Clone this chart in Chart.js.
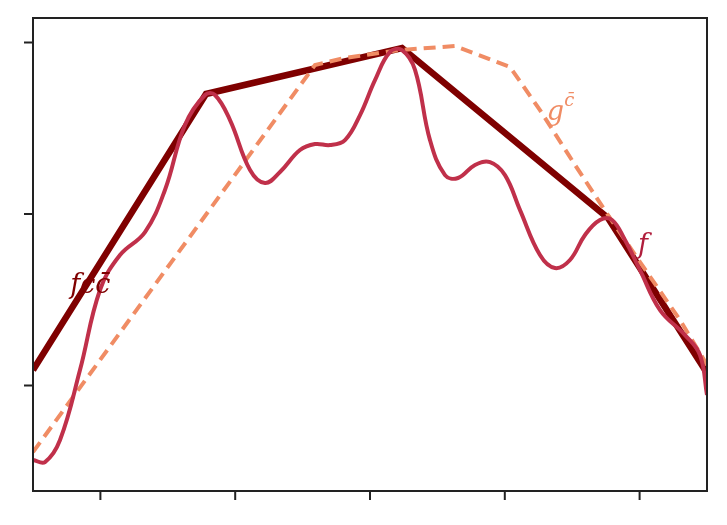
<!DOCTYPE html><html><head><script src="https://cdn.jsdelivr.net/npm/chart.js@4"></script>
<style>body{margin:0;background:#fff}#w{width:727px;height:525px}</style></head><body><div id="w"><canvas id="c"></canvas></div>
<script>
const fX=[0,0.178,0.401,0.697,0.994,1.291,1.662,1.958,2.255,2.552,2.700,2.923,3.220,3.442,3.665,3.961,4.184,4.407,4.629,4.852,5.074,5.297,5.475,5.668,5.890,6.113,6.306,6.558,6.780,7.003,7.226,7.522,7.745,7.967,8.190,8.412,8.591,8.783,9.006,9.303,9.674,9.896,10];
const fY=[-1.434,-1.446,-1.318,-0.910,-0.443,-0.239,-0.105,0.140,0.519,0.694,0.694,0.548,0.257,0.181,0.245,0.373,0.408,0.402,0.431,0.577,0.781,0.945,0.956,0.840,0.431,0.227,0.210,0.286,0.303,0.227,0.023,-0.239,-0.315,-0.268,-0.122,-0.035,-0.035,-0.152,-0.327,-0.560,-0.706,-0.822,-1.055];
const gX=[0,4.184,4.629,5.445,6.261,7.077,7.522,8.042,8.531,9.006,9.599,10];
const gY=[-1.388,0.869,0.910,0.956,0.980,0.857,0.606,0.286,-0.006,-0.280,-0.618,-0.880];
const hX=[0,2.567,5.475,8.531,10];
const hY=[-0.910,0.700,0.968,-0.023,-0.927];
const xTicks=[1,3,5,7,9];
const yTicks=[-1,0,1];
const labels=[{t:'fcc\u0304',x:0.85,y:-0.46,c:'#7f0000'},{t:'g',x:7.75,y:0.55,c:'#f08c64',sup:'c\u0304'},{t:'f',x:9.05,y:-0.23,c:'#b01e3c'}];
const pts=(X,Y)=>X.map((x,i)=>({x,y:Y[i]}));
const deco={id:'deco',afterDraw(ch){const {ctx,chartArea:a,scales:s}=ch;ctx.save();ctx.strokeStyle='#222';ctx.lineWidth=2;ctx.strokeRect(a.left,a.top,a.right-a.left,a.bottom-a.top);
ctx.beginPath();xTicks.forEach(v=>{const p=s.x.getPixelForValue(v);ctx.moveTo(p,a.bottom);ctx.lineTo(p,a.bottom+9);});
yTicks.forEach(v=>{const p=s.y.getPixelForValue(v);ctx.moveTo(a.left,p);ctx.lineTo(a.left-9,p);});ctx.stroke();
labels.forEach(l=>{ctx.fillStyle=l.c;ctx.font='italic 27px "DejaVu Serif", serif';const px=s.x.getPixelForValue(l.x),py=s.y.getPixelForValue(l.y);ctx.textAlign='center';ctx.fillText(l.t,px,py);
if(l.sup){ctx.font='italic 18px "DejaVu Serif", serif';ctx.textAlign='left';ctx.fillText(l.sup,px+9,py-14);}});ctx.restore();}};
new Chart(document.getElementById('c'),{type:'scatter',data:{datasets:[
{data:pts(fX,fY),showLine:true,borderColor:'#c0304a',borderWidth:4,pointRadius:0,tension:0.4},
{data:pts(gX,gY),showLine:true,borderColor:'#f08c64',borderWidth:4,borderDash:[12,7],pointRadius:0,tension:0},
{data:pts(hX,hY),showLine:true,borderColor:'#7f0000',borderWidth:6.5,pointRadius:0,tension:0}]},
options:{animation:false,responsive:true,maintainAspectRatio:false,events:[],layout:{padding:{top:18,right:20,left:0,bottom:0}},
plugins:{legend:{display:false},tooltip:{enabled:false}},
scales:{x:{type:'linear',min:0,max:10,grid:{display:false},border:{display:false},ticks:{display:false},afterFit(s){s.height=34;}},
y:{min:-1.615,max:1.143,grid:{display:false},border:{display:false},ticks:{display:false},afterFit(s){s.width=33;}}}},plugins:[deco]});
</script></body></html>
